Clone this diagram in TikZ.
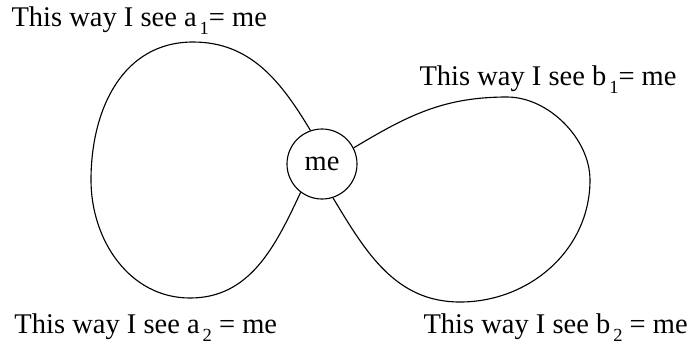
\documentclass[tikz,border=0pt]{standalone}
\usepackage{fontspec}
\setmainfont{Liberation Serif}
\newcommand\mysub[1]{\raisebox{-3.4pt}{\fontsize{7.4}{8}\selectfont #1}}
\begin{document}
\begin{tikzpicture}[x=0.4pt,y=-0.4pt,
  lbl/.style={anchor=base west,inner sep=0pt,font=\fontsize{11.4}{13}\selectfont},
  loop/.style={line width=0.45pt,line join=round}]
\useasboundingbox (0,0) rectangle (689,349);
\node[draw,circle,line width=0.45pt,minimum size=28pt,inner sep=0pt,font=\fontsize{11.4}{13}\selectfont] (me) at (322,164) {me};
\node[lbl] (a1) at (11,26) {This way I see a\hspace{1.2pt}\mysub{1}= me};
\node[lbl] (b1) at (419,85) {This way I see b\hspace{1.2pt}\mysub{1}= me};
\node[lbl] (a2) at (14,333) {This way I see a\hspace{1.2pt}\mysub{2} = me};
\node[lbl] (b2) at (423,333) {This way I see b\hspace{1.2pt}\mysub{2} = me};
\coordinate (lt) at (193,42);
\coordinate (ll) at (91,180);
\coordinate (lb) at (190,298);
\coordinate (rt) at (507,97);
\coordinate (rr) at (590,180);
\coordinate (rb) at (460,302);
\draw[loop] (me.109) to[out=121,in=0] (lt) to[out=180,in=90,looseness=1.05] (ll)
  to[out=270,in=180] (lb) to[out=0,in=245] (me.233);
\draw[loop] (me.27) to[out=31,in=180] (rt) to[out=0,in=90,looseness=0.9] (rr)
  to[out=270,in=0] (rb) to[out=180,in=-59] (me.288);
\end{tikzpicture}
\end{document}
